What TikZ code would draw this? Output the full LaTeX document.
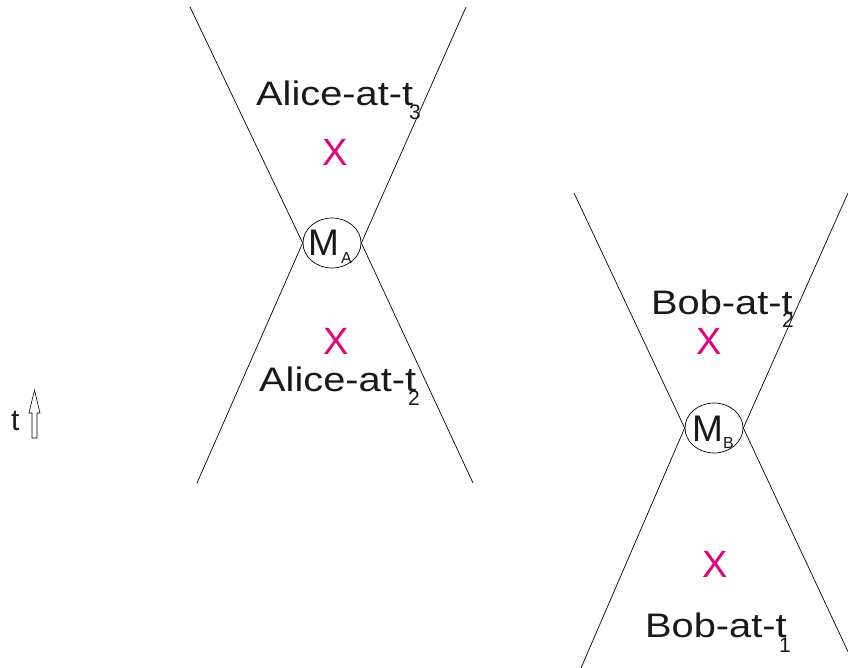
\documentclass[tikz,border=0pt]{standalone}
\usepackage{fontspec}
\setmainfont{Liberation Sans}
\newfontfamily\labfont[FakeStretch=1.17]{Liberation Sans}
\usetikzlibrary{shapes.geometric}
\definecolor{xmag}{RGB}{228,0,124}
\tikzset{
  cone/.style={draw=black, line width=0.7pt},
  evt/.style={ellipse, draw=black, line width=0.7pt, minimum width=58pt, minimum height=50pt, inner sep=0pt},
  lab/.style={anchor=base west, inner sep=0pt, font=\labfont\fontsize{34}{40}\selectfont, text=black!90},
  sub/.style={anchor=base west, inner sep=0pt, font=\fontsize{21}{24}\selectfont, text=black!90},
  mlab/.style={anchor=base west, inner sep=0pt, font=\fontsize{37}{44}\selectfont, text=black!90},
  msub/.style={anchor=base west, inner sep=0pt, font=\fontsize{16}{19}\selectfont, text=black!90},
  xmark/.style={inner sep=0pt, font=\fontsize{38}{44}\selectfont, text=xmag},
}
\begin{document}
\begin{tikzpicture}[x=1pt,y=-1pt]
\useasboundingbox (0,0) rectangle (848,668);
% Alice
\node[evt] (MA) at (332,243) {};
\coordinate (a1) at (190,7);
\coordinate (a2) at (197,483);
\coordinate (a3) at (466,7);
\coordinate (a4) at (473,483);
\draw[cone] (a1) -- (MA.west) -- (a2);
\draw[cone] (a3) -- (MA.east) -- (a4);
\node[mlab] (mA) at (308,255) {M};
\node[msub] (sA) at (341,264) {A};
\node[lab] (al3) at (256,106) {Alice-at-t};
\node[sub] (al3s) at (409,120) {3};
\node[lab] (al2) at (259,391) {Alice-at-t};
\node[sub] (al2s) at (408,405) {2};
\node[xmark] (xa1) at (335,152) {X};
\node[xmark] (xa2) at (336,341) {X};
% Bob
\node[evt] (MB) at (714,428) {};
\coordinate (b1) at (574,193);
\coordinate (b2) at (581,668);
\coordinate (b3) at (848,193);
\coordinate (b4) at (850,656);
\draw[cone] (b1) -- (MB.west) -- (b2);
\draw[cone] (b3) -- (MB.east) -- (b4);
\node[mlab] (mB) at (692,441) {M};
\node[msub] (sB) at (723,448) {B};
\node[lab] (bo2) at (651,314) {Bob-at-t};
\node[sub] (bo2s) at (782,327) {2};
\node[lab] (bo1) at (645,637) {Bob-at-t};
\node[sub] (bo1s) at (779,652) {1};
\node[xmark] (xb1) at (709,341) {X};
\node[xmark] (xb2) at (715,564) {X};
% time arrow
\node[anchor=base west, inner sep=0pt, font=\fontsize{30}{36}\selectfont, text=black!90] (tl) at (11,430) {t};
\draw[line width=0.6pt] (32,438) -- (32,413) -- (29,413) -- (34.5,390) -- (40,413) -- (37,413) -- (37,438) -- cycle;
\end{tikzpicture}
\end{document}
